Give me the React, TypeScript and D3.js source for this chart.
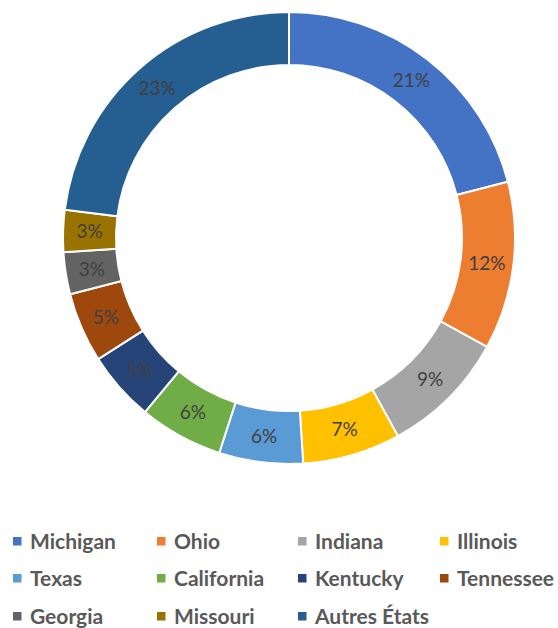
import React from "react";
import * as d3 from "d3";

const categories = ["Michigan", "Ohio", "Indiana", "Illinois", "Texas", "California", "Kentucky", "Tennessee", "Georgia", "Missouri", "Autres États"];
const values = [21, 12, 9, 7, 6, 6, 5, 5, 3, 3, 23];
const colors = ["#4472C4", "#ED7D31", "#A5A5A5", "#FFC000", "#5B9BD5", "#70AD47", "#264478", "#9E480E", "#636363", "#997300", "#255E91"];

const W = 558, H = 628;
const cx = 289, cy = 238;
const outerR = 226, innerR = 173;

export default function App() {
  const data = categories.map((c, i) => ({ name: c, value: values[i], color: colors[i] }));
  const pie = d3.pie<any>().value((d: any) => d.value).sort(null).startAngle(0).endAngle(2 * Math.PI);
  const arcs = pie(data);
  const arc = d3.arc<any>().innerRadius(innerR).outerRadius(outerR);
  const labelArc = d3.arc<any>().innerRadius((innerR + outerR) / 2).outerRadius((innerR + outerR) / 2);

  const colX = [13, 157, 298, 440];
  const rowY = [541, 578, 616];

  return (
    <svg width={W} height={H} style={{ position: "absolute", left: 0, top: 0, background: "#fff" }}>
      <g transform={`translate(${cx},${cy})`}>
        {arcs.map((a, i) => (
          <path key={i} d={arc(a) as string} fill={a.data.color} stroke="#fff" strokeWidth={2} />
        ))}
        {arcs.map((a, i) => {
          const [x, y] = labelArc.centroid(a);
          return (
            <text key={"l" + i} x={x} y={y} dy="0.35em" textAnchor="middle" fontFamily="Lato, 'Open Sans', sans-serif" fontSize={19} fill="#404040">
              {a.data.value + "%"}
            </text>
          );
        })}
      </g>
      {data.map((d, i) => {
        const col = i % 4, row = Math.floor(i / 4);
        const x = colX[col], y = rowY[row];
        return (
          <g key={"g" + i}>
            <rect x={x} y={y - 4} width={8.5} height={8.5} fill={d.color} />
            <text x={x + 17} y={y} dy="0.36em" fontFamily="Lato, 'Open Sans', sans-serif" fontWeight={700} fontSize={21} fill="#595959">
              {d.name}
            </text>
          </g>
        );
      })}
    </svg>
  );
}
